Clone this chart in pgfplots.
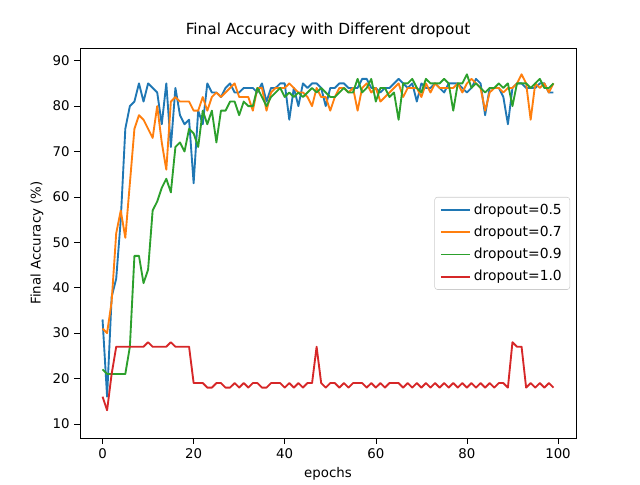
\documentclass[border=0pt]{standalone}
\usepackage{pgfplots}
\pgfplotsset{compat=1.18}
\usepackage{fontspec}
\setmainfont{DejaVu Sans}
\definecolor{c1}{HTML}{1F77B4}
\definecolor{c2}{HTML}{FF7F0E}
\definecolor{c3}{HTML}{2CA02C}
\definecolor{c4}{HTML}{D62728}
\begin{document}
\fontsize{10}{12}\selectfont
\begin{tikzpicture}
\path (-60pt,-31.5pt) rectangle (420pt,328.5pt);
\begin{axis}[scale only axis, width=372pt, height=292.5pt, at={(0,0)}, anchor=south west,
 xmin=-4.95, xmax=103.95, ymin=6.9, ymax=92.8,
 xtick={0,20,40,60,80,100}, ytick={10,20,...,90},
 tick align=outside, tick style={black, thin}, xtick pos=bottom, ytick pos=left,
 /pgf/number format/assume math mode=true,
 ticklabel style={font=\fontsize{10}{12}\selectfont},
 xlabel={epochs}, ylabel={Final Accuracy (\%)},
 title={Final Accuracy with Different dropout},
 title style={font=\fontsize{11.5}{14}\selectfont, yshift=-2pt},
 legend style={at={(0.988,0.618)}, anchor=north east, draw=black!20, rounded corners=2pt, font=\fontsize{10.4}{12}\selectfont, row sep=3.2pt, inner xsep=4pt, inner ysep=3pt},
 legend image code/.code={\draw[#1] (0pt,0pt) -- (22pt,0pt);},
 legend cell align=left,
 every axis plot/.append style={line width=1.4pt, line join=round},
]
\addplot[c1] coordinates {(0,33)(1,16)(2,38)(3,42)(4,55)(5,75)(6,80)(7,81)(8,85)(9,81)(10,85)(11,84)(12,83)(13,76)(14,85)(15,71)(16,84)(17,78)(18,76)(19,77)(20,63)(21,79)(22,76)(23,85)(24,83)(25,83)(26,82)(27,84)(28,85)(29,83)(30,83)(31,84)(32,84)(33,84)(34,83)(35,85)(36,81)(37,84)(38,84)(39,85)(40,85)(41,77)(42,84)(43,80)(44,85)(45,84)(46,85)(47,85)(48,84)(49,80)(50,84)(51,84)(52,85)(53,85)(54,84)(55,84)(56,84)(57,86)(58,86)(59,84)(60,84)(61,83)(62,84)(63,84)(64,85)(65,86)(66,85)(67,84)(68,85)(69,81)(70,85)(71,84)(72,84)(73,85)(74,84)(75,83)(76,85)(77,85)(78,85)(79,84)(80,83)(81,84)(82,86)(83,85)(84,78)(85,84)(86,84)(87,84)(88,82)(89,76)(90,84)(91,85)(92,85)(93,84)(94,84)(95,84)(96,85)(97,85)(98,83)(99,83)};
\addlegendentry{dropout=0.5}
\addplot[c2] coordinates {(0,31)(1,30)(2,37)(3,52)(4,57)(5,51)(6,63)(7,75)(8,78)(9,77)(10,75)(11,73)(12,80)(13,72)(14,66)(15,81)(16,82)(17,81)(18,81)(19,81)(20,79)(21,79)(22,82)(23,79)(24,82)(25,83)(26,82)(27,83)(28,84)(29,85)(30,82)(31,82)(32,82)(33,79)(34,84)(35,84)(36,79)(37,83)(38,84)(39,84)(40,84)(41,85)(42,84)(43,83)(44,83)(45,82)(46,80)(47,84)(48,82)(49,82)(50,79)(51,82)(52,84)(53,84)(54,83)(55,84)(56,79)(57,84)(58,85)(59,83)(60,84)(61,81)(62,82)(63,83)(64,84)(65,85)(66,82)(67,84)(68,84)(69,84)(70,82)(71,85)(72,83)(73,85)(74,84)(75,84)(76,84)(77,84)(78,85)(79,83)(80,85)(81,86)(82,85)(83,84)(84,79)(85,83)(86,84)(87,84)(88,83)(89,84)(90,84)(91,85)(92,87)(93,85)(94,77)(95,85)(96,84)(97,85)(98,83)(99,85)};
\addlegendentry{dropout=0.7}
\addplot[c3] coordinates {(0,22)(1,21)(2,21)(3,21)(4,21)(5,21)(6,27)(7,47)(8,47)(9,41)(10,44)(11,57)(12,59)(13,62)(14,64)(15,61)(16,71)(17,72)(18,70)(19,75)(20,74)(21,71)(22,79)(23,76)(24,79)(25,72)(26,79)(27,79)(28,81)(29,81)(30,78)(31,81)(32,80)(33,80)(34,84)(35,82)(36,80)(37,82)(38,83)(39,84)(40,82)(41,83)(42,82)(43,83)(44,82)(45,83)(46,84)(47,83)(48,84)(49,83)(50,82)(51,82)(52,83)(53,84)(54,83)(55,83)(56,86)(57,83)(58,84)(59,86)(60,81)(61,84)(62,84)(63,82)(64,83)(65,77)(66,85)(67,85)(68,86)(69,84)(70,83)(71,86)(72,85)(73,85)(74,85)(75,86)(76,85)(77,79)(78,85)(79,85)(80,87)(81,84)(82,85)(83,84)(84,83)(85,84)(86,84)(87,85)(88,84)(89,85)(90,80)(91,85)(92,85)(93,85)(94,84)(95,85)(96,86)(97,84)(98,84)(99,85)};
\addlegendentry{dropout=0.9}
\addplot[c4] coordinates {(0,16)(1,13)(2,21)(3,27)(4,27)(5,27)(6,27)(7,27)(8,27)(9,27)(10,28)(11,27)(12,27)(13,27)(14,27)(15,28)(16,27)(17,27)(18,27)(19,27)(20,19)(21,19)(22,19)(23,18)(24,18)(25,19)(26,19)(27,18)(28,18)(29,19)(30,18)(31,19)(32,18)(33,19)(34,19)(35,18)(36,18)(37,19)(38,19)(39,19)(40,18)(41,19)(42,18)(43,19)(44,18)(45,19)(46,19)(47,27)(48,19)(49,18)(50,19)(51,19)(52,18)(53,19)(54,18)(55,19)(56,19)(57,19)(58,18)(59,19)(60,18)(61,19)(62,18)(63,19)(64,19)(65,19)(66,18)(67,19)(68,18)(69,19)(70,18)(71,19)(72,18)(73,19)(74,18)(75,19)(76,18)(77,19)(78,18)(79,19)(80,18)(81,19)(82,18)(83,19)(84,18)(85,19)(86,18)(87,19)(88,19)(89,18)(90,28)(91,27)(92,27)(93,18)(94,19)(95,18)(96,19)(97,18)(98,19)(99,18)};
\addlegendentry{dropout=1.0}
\end{axis}
\end{tikzpicture}
\end{document}
